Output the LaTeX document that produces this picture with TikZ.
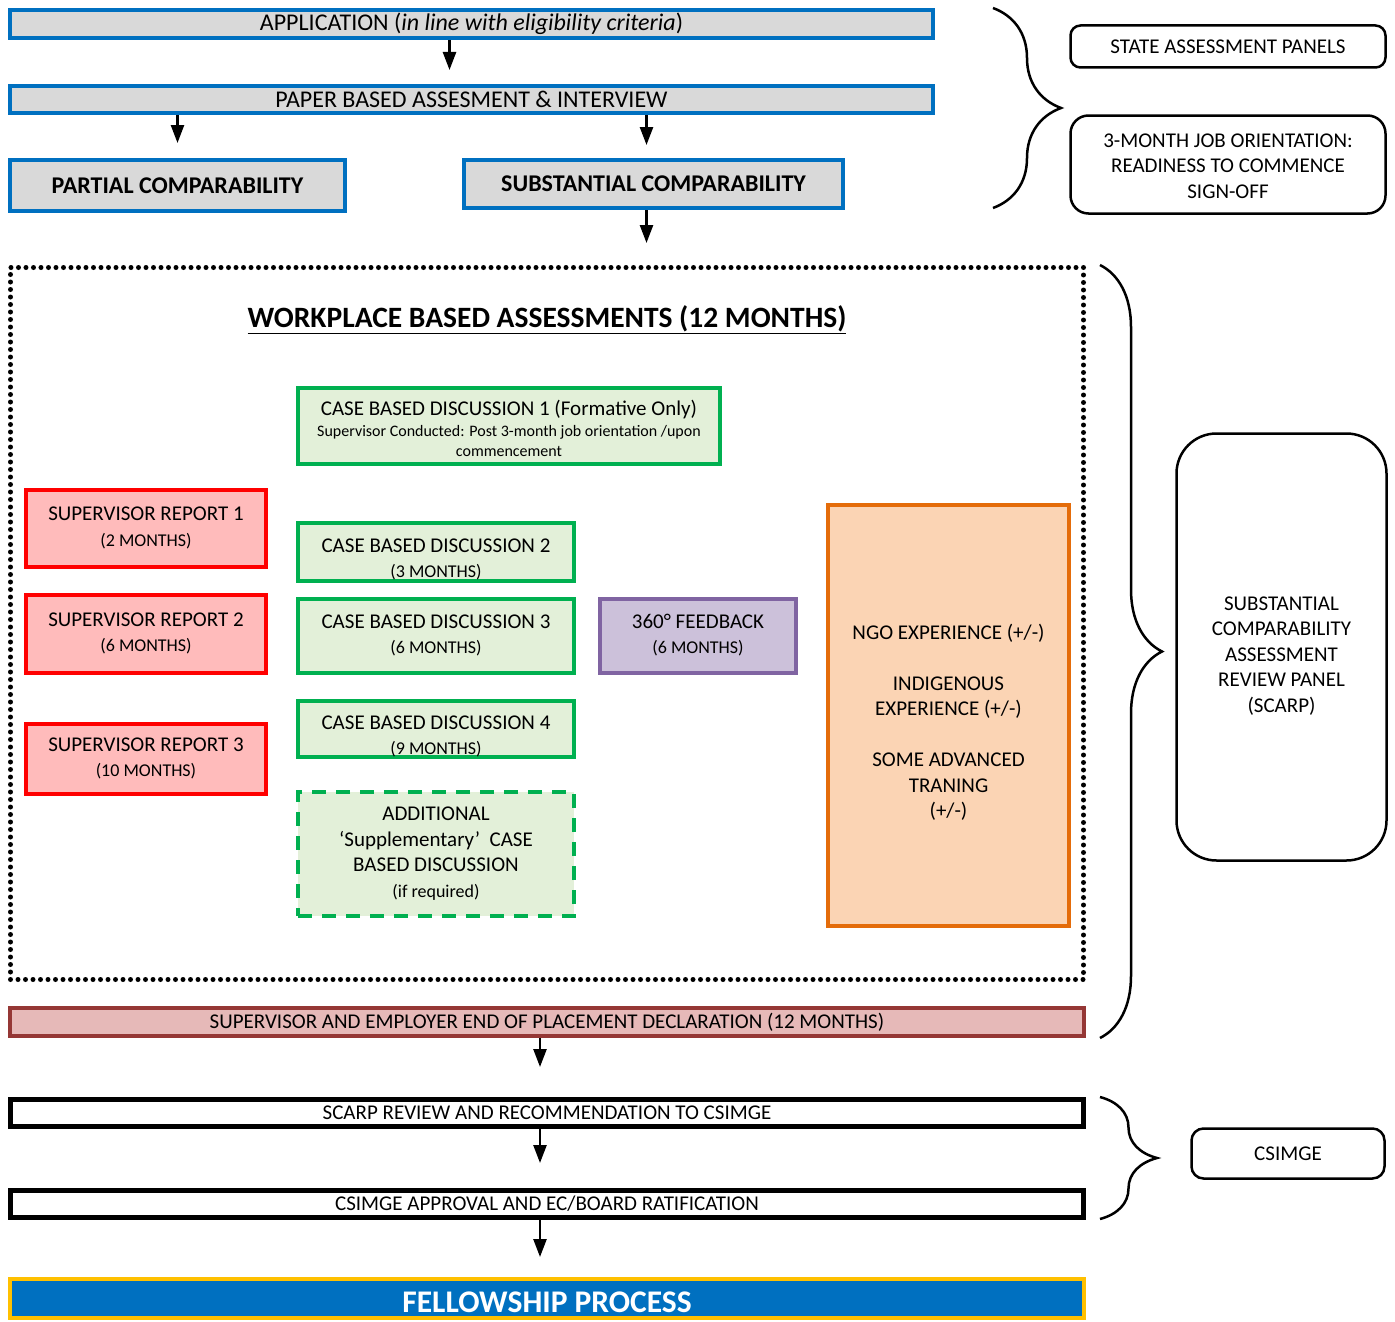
\documentclass[tikz,border=0pt]{standalone}
\usepackage{fontspec}
\setmainfont{Carlito}
\usetikzlibrary{arrows.meta,calc,decorations.pathreplacing}

\definecolor{appblue}{HTML}{0070C0}
\definecolor{boxgray}{HTML}{D9D9D9}
\definecolor{cbdgreen}{HTML}{00B050}
\definecolor{cbdfill}{HTML}{E3F0D9}
\definecolor{srred}{HTML}{FF0000}
\definecolor{srfill}{HTML}{FFBBBB}
\definecolor{fbpurple}{HTML}{8064A2}
\definecolor{fbfill}{HTML}{CCC1DA}
\definecolor{ngoorange}{HTML}{E46C0A}
\definecolor{ngofill}{HTML}{FBD4B4}
\definecolor{decldark}{HTML}{953735}
\definecolor{declfill}{HTML}{E6B9B8}
\definecolor{fellowgold}{HTML}{FFC000}

\newcommand{\lowtext}[2]{\raisebox{-#1}[\height][\depth]{\begin{tabular}{@{}c@{}}#2\end{tabular}}}
\newcommand{\sub}[1]{{\fontsize{18}{20}\selectfont #1}}

\tikzstyle{bluebox} = [draw=appblue, fill=boxgray, line width=4pt, inner sep=0pt, align=center, font=\fontsize{24}{28}\selectfont]
\tikzstyle{greenbox} = [draw=cbdgreen, fill=cbdfill, line width=4pt, inner sep=0pt, align=center]
\tikzstyle{redbox} = [draw=srred, fill=srfill, line width=4pt, inner sep=0pt, align=center]
\tikzstyle{blackbar} = [draw, fill=white, line width=5pt, inner sep=0pt]
\tikzstyle{panel} = [draw, line width=2.5pt, inner sep=0pt, align=center]
\tikzstyle{arr} = [-{Triangle[length=18pt,width=13pt]}, line width=2.5pt]

\begin{document}
\begin{tikzpicture}[x=1pt,y=-1pt,font=\fontsize{21}{25.5}\selectfont,
	curly/.style={decorate,decoration={brace,amplitude=#1},line width=2.5pt}]
\useasboundingbox (0,0) rectangle (1395,1322);

\node [bluebox, minimum width=923pt, minimum height=28pt] (app) at (471.5,24)
	{APPLICATION (\textit{in line with eligibility criteria})};
\node [bluebox, minimum width=923pt, minimum height=27pt] (paper) at (471.5,99.5)
	{PAPER BASED ASSESMENT \& INTERVIEW};
\node [bluebox, minimum width=335pt, minimum height=51pt, font=\fontsize{24}{28}\selectfont\bfseries] (partial) at (177.5,185.5)
	{PARTIAL COMPARABILITY};
\node [bluebox, minimum width=379pt, minimum height=48pt, font=\fontsize{24}{28}\selectfont\bfseries] (subst) at (653.5,184)
	{SUBSTANTIAL COMPARABILITY};

\node [draw, line width=5pt, dash pattern=on 0pt off 7.5pt, line cap=round,
	minimum width=1073pt, minimum height=712pt] (wba) at (547,623.5) {};
\node [font=\fontsize{29.5}{32}\selectfont\bfseries] (wbatitle) at (547,320)
	{\underline{WORKPLACE BASED ASSESSMENTS (12 MONTHS)}};

\node [greenbox, minimum width=422pt, minimum height=76pt] (cbdone) at (509,426)
	{\lowtext{5pt}{CASE BASED DISCUSSION 1 (Formative Only)\\[-5pt]
	{\fontsize{16}{20}\selectfont Supervisor Conducted: Post 3-month job orientation /upon}\\[-5pt]
	{\fontsize{16}{20}\selectfont commencement}}};

\node [redbox, minimum width=240pt, minimum height=77pt] (srone) at (146,528.5)
	{\lowtext{0pt}{SUPERVISOR REPORT 1\\\sub{(2 MONTHS)}}};
\node [redbox, minimum width=240pt, minimum height=78pt] (srtwo) at (146,634)
	{\lowtext{0pt}{SUPERVISOR REPORT 2\\\sub{(6 MONTHS)}}};
\node [redbox, minimum width=240pt, minimum height=70pt] (srthree) at (146,759)
	{\lowtext{0pt}{SUPERVISOR REPORT 3\\\sub{(10 MONTHS)}}};

\node [greenbox, minimum width=276pt, minimum height=58pt] (cbdtwo) at (436,552)
	{\lowtext{8pt}{CASE BASED DISCUSSION 2\\\sub{(3 MONTHS)}}};
\node [greenbox, minimum width=276pt, minimum height=74pt] (cbdthree) at (436,636)
	{\lowtext{0pt}{CASE BASED DISCUSSION 3\\\sub{(6 MONTHS)}}};
\node [greenbox, minimum width=276pt, minimum height=56pt] (cbdfour) at (436,729)
	{\lowtext{8pt}{CASE BASED DISCUSSION 4\\\sub{(9 MONTHS)}}};
\node [greenbox, dash pattern=on 14pt off 10pt, minimum width=276pt, minimum height=124pt] (cbdadd) at (436,854)
	{\lowtext{0pt}{ADDITIONAL\\‘Supplementary’ \ CASE\\BASED DISCUSSION\\\sub{(if required)}}};

\node [draw=fbpurple, fill=fbfill, line width=4pt, inner sep=0pt, align=center,
	minimum width=196pt, minimum height=74pt] (feedback) at (698,636)
	{\lowtext{0pt}{360° FEEDBACK\\\sub{(6 MONTHS)}}};
\node [draw=ngoorange, fill=ngofill, line width=4pt, inner sep=0pt, align=center,
	minimum width=241pt, minimum height=421pt] (ngo) at (948.5,715.5)
	{\lowtext{8pt}{NGO EXPERIENCE (+/-)\\[25.5pt]INDIGENOUS\\EXPERIENCE (+/-)\\[25.5pt]SOME ADVANCED\\TRANING\\(+/-)}};

\node [draw=decldark, fill=declfill, line width=4pt, inner sep=0pt,
	minimum width=1074pt, minimum height=28pt] (decl) at (547,1022)
	{SUPERVISOR AND EMPLOYER END OF PLACEMENT DECLARATION (12 MONTHS)};
\node [blackbar, minimum width=1073pt, minimum height=27pt] (review) at (547,1113)
	{SCARP REVIEW AND RECOMMENDATION TO CSIMGE};
\node [blackbar, minimum width=1073pt, minimum height=27pt] (approval) at (547,1204)
	{CSIMGE APPROVAL AND EC/BOARD RATIFICATION};
\node [draw=fellowgold, fill=appblue, text=white, line width=4pt, inner sep=0pt,
	minimum width=1074pt, minimum height=39pt, font=\fontsize{31.5}{34}\selectfont\bfseries] (fellow) at (547,1298.5)
	{\raisebox{-4pt}[\height][\depth]{FELLOWSHIP PROCESS}};

\node [panel, rounded corners=10pt, minimum width=315pt, minimum height=42pt] (state) at (1228,46.5)
	{STATE ASSESSMENT PANELS};
\node [panel, rounded corners=18pt, minimum width=315pt, minimum height=98pt] (orient) at (1228,164.5)
	{\lowtext{3pt}{3-MONTH JOB ORIENTATION:\\READINESS TO COMMENCE\\SIGN-OFF}};
\node [panel, rounded corners=40pt, minimum width=210pt, minimum height=427pt] (scarp) at (1281.5,647)
	{\lowtext{9pt}{SUBSTANTIAL\\COMPARABILITY\\ASSESSMENT\\REVIEW PANEL\\(SCARP)}};
\node [panel, rounded corners=12pt, minimum width=193pt, minimum height=50pt] (csimge) at (1288,1153.5)
	{CSIMGE};

\coordinate (topbrA) at (993,8);
\coordinate (topbrB) at (993,208);
\coordinate (midbrA) at (1100,265);
\coordinate (midbrB) at (1100,1038);
\coordinate (lowbrA) at (1100,1097);
\coordinate (lowbrB) at (1100,1219);
\draw [curly=68pt] (topbrA) -- (topbrB);
\draw [curly=62pt] (midbrA) -- (midbrB);
\draw [curly=57pt] (lowbrA) -- (lowbrB);

\draw [arr, shorten >=14pt] ($(app.south)+(-22,0)$) -- ($(paper.north)+(-22,0)$);
\draw [arr, shorten >=15pt] (paper.south -| partial.north) -- (partial.north);
\draw [arr, shorten >=13pt] ($(paper.south -| subst.north)+(-7,0)$) -- ($(subst.north)+(-7,0)$);
\draw [arr, shorten >=22pt] ($(subst.south)+(-7,0)$) -- ($(subst.south |- wba.north)+(-7,0)$);
\draw [arr, shorten >=30pt] ($(decl.south)+(-7,0)$) -- ($(review.north)+(-7,0)$);
\draw [arr, shorten >=25pt] ($(review.south)+(-7,0)$) -- ($(approval.north)+(-7,0)$);
\draw [arr, shorten >=20pt] ($(approval.south)+(-7,0)$) -- ($(fellow.north)+(-7,0)$);
\end{tikzpicture}
\end{document}
